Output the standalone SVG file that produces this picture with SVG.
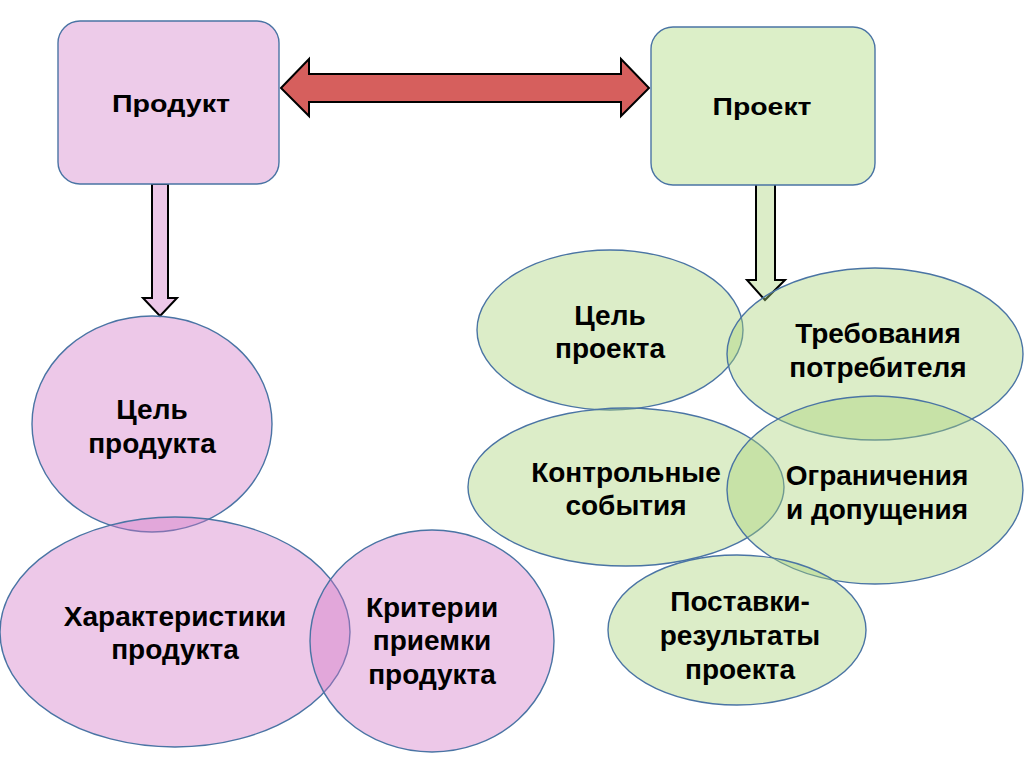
<svg xmlns="http://www.w3.org/2000/svg" width="1024" height="767" viewBox="0 0 1024 767">
<style>
.pk{fill:#d276c5;fill-opacity:0.4;stroke:#4a74a4;stroke-width:1.4}
.gr{fill:#a8d276;fill-opacity:0.4;stroke:#4a74a4;stroke-width:1.4}
.box{stroke:#4a74a4;stroke-width:1.4}
.t{font-family:"Liberation Sans",Arial,sans-serif;font-weight:bold;font-size:28px;fill:#000;text-anchor:middle}
.h{font-size:24px}
.arr{stroke:#000;stroke-width:2;stroke-linejoin:miter}
</style>
<rect width="1024" height="767" fill="#fff"/>
<g id="connectors">
<polygon class="arr" fill="#d65f5d" points="281,88 309,59 309,74 621,74 621,59 649,88 621,116 621,102 309,102 309,116"/>
<polygon class="arr" fill="#edc8e8" points="152,184 168,184 168,298 177,298 160,316 143,298 152,298"/>
<polygon class="arr" fill="#dcedc8" points="756,184 775,184 775,280 785,280 765,300 747,280 756,280"/>
</g>
<g id="produkt">
<rect class="box" x="58" y="21" width="221" height="163" rx="22" fill="#edcbe9"/>
<text class="t h" x="171" y="112" textLength="118" lengthAdjust="spacingAndGlyphs">Продукт</text>
</g>
<g id="proekt">
<rect class="box" x="651" y="27" width="224" height="158" rx="22" fill="#dcefc8"/>
<text class="t h" x="762" y="115" textLength="99" lengthAdjust="spacingAndGlyphs">Проект</text>
</g>
<g id="cel-produkta">
<ellipse class="pk" cx="152" cy="424" rx="120" ry="108"/>
<text class="t" x="152" y="419">Цель</text>
<text class="t" x="152" y="453">продукта</text>
</g>
<g id="harakteristiki">
<ellipse class="pk" cx="175" cy="632" rx="175" ry="115"/>
<text class="t" x="175" y="626">Характеристики</text>
<text class="t" x="175" y="659">продукта</text>
</g>
<g id="kriterii">
<ellipse class="pk" cx="432" cy="641" rx="122" ry="111"/>
<text class="t" x="432" y="617">Критерии</text>
<text class="t" x="432" y="650">приемки</text>
<text class="t" x="432" y="684">продукта</text>
</g>
<g id="cel-proekta">
<ellipse class="gr" cx="610" cy="330" rx="133" ry="80"/>
<text class="t" x="610" y="325">Цель</text>
<text class="t" x="610" y="358">проекта</text>
</g>
<g id="trebovaniya">
<ellipse class="gr" cx="875" cy="354" rx="148" ry="86"/>
<text class="t" x="878" y="343">Требования</text>
<text class="t" x="878" y="377">потребителя</text>
</g>
<g id="kontrolnye">
<ellipse class="gr" cx="626" cy="487" rx="158" ry="79"/>
<text class="t" x="626" y="482">Контрольные</text>
<text class="t" x="626" y="515">события</text>
</g>
<g id="ogranicheniya">
<ellipse class="gr" cx="875" cy="490" rx="148" ry="94"/>
<text class="t" x="877" y="485">Ограничения</text>
<text class="t" x="877" y="519">и допущения</text>
</g>
<g id="postavki">
<ellipse class="gr" cx="737" cy="630" rx="129" ry="75"/>
<text class="t" x="740" y="611">Поставки-</text>
<text class="t" x="740" y="645">результаты</text>
<text class="t" x="740" y="679">проекта</text>
</g>
</svg>
